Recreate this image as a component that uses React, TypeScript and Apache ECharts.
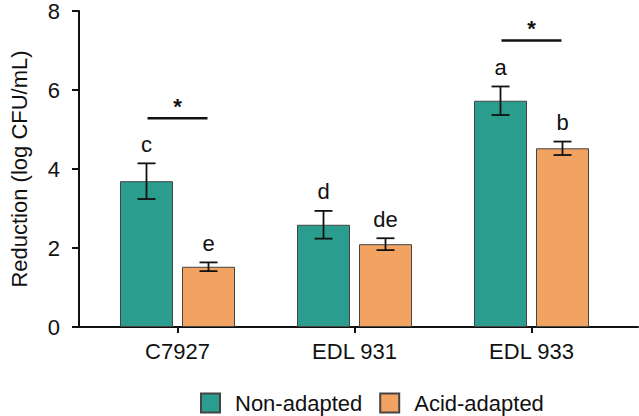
import React, { useEffect, useRef } from "react";
import * as echarts from "echarts";

const categories = ["C7927", "EDL 931", "EDL 933"];
const seriesNames = ["Non-adapted", "Acid-adapted"];
const nonAdapted = [3.68, 2.58, 5.71];
const nonAdaptedErr = [0.45, 0.35, 0.36];
const acidAdapted = [1.52, 2.09, 4.51];
const acidAdaptedErr = [0.11, 0.15, 0.17];
const nonLetters = ["c", "d", "a"];
const acidLetters = ["e", "de", "b"];
const sigCategoryIdx = [0, 2];
const sigLevels = [5.27, 7.23];
const sigMarks = ["*", "*"];
const yTicks = { min: 0, max: 8, interval: 2 };

const TEAL = "#2a9d8e";
const ORANGE = "#f2a261";
const FONT = "'Liberation Sans', Arial, Helvetica, sans-serif";
const FS = 22;
const BAR_W = 53;
const BAR_GAP_PX = 9;
const CAP_W = 18;

export default function App() {
  const ref = useRef<HTMLDivElement>(null);
  useEffect(() => {
    document.body.style.margin = "0";
    const chart = echarts.init(ref.current!, null, { renderer: "svg" });
    const offset = (BAR_W + BAR_GAP_PX) / 2;

    const errData: any[] = [];
    categories.forEach((c, i) => {
      errData.push([i, nonAdapted[i], nonAdaptedErr[i], -1, nonLetters[i]]);
      errData.push([i, acidAdapted[i], acidAdaptedErr[i], 1, acidLetters[i]]);
    });
    const sigData = sigCategoryIdx.map((ci, k) => [ci, sigLevels[k], sigMarks[k]]);

    chart.setOption({
      animation: false,
      textStyle: { fontFamily: FONT },
      grid: [
        { left: 72, right: 1, top: 10, bottom: 89 },
        { left: 89, right: 19, top: 10, bottom: 89 },
      ],
      legend: {
        left: 200,
        top: 392,
        padding: 0,
        itemWidth: 19,
        itemHeight: 19,
        itemGap: 17,
        icon: "rect",
        data: seriesNames,
        textStyle: { fontSize: FS, color: "#111", fontFamily: FONT, padding: [0, 0, 0, 10] },
      },
      xAxis: [
        {
          gridIndex: 0,
          type: "value",
          min: 0,
          max: 1,
          axisLine: { show: true, lineStyle: { color: "#111", width: 2 } },
          axisTick: { show: false },
          axisLabel: { show: false },
          splitLine: { show: false },
        },
        {
          gridIndex: 1,
          type: "category",
          data: categories,
          axisLine: { show: false },
          axisTick: { show: true, alignWithLabel: true, length: 6, lineStyle: { color: "#111", width: 2 } },
          axisLabel: { fontSize: FS, color: "#111", margin: 13, fontFamily: FONT },
        },
      ],
      yAxis: [
        {
          gridIndex: 0,
          type: "value",
          ...yTicks,
          name: "Reduction (log CFU/mL)",
          nameLocation: "middle",
          nameGap: 49,
          nameTextStyle: { fontSize: FS, color: "#111", fontFamily: FONT },
          axisLine: { show: true, lineStyle: { color: "#111", width: 2 } },
          axisTick: { show: true, length: 7, lineStyle: { color: "#111", width: 2 } },
          axisLabel: { fontSize: FS, color: "#111", margin: 19, fontFamily: FONT },
          splitLine: { show: false },
        },
        { gridIndex: 1, type: "value", ...yTicks, show: false, splitLine: { show: false } },
      ],
      series: [
        {
          name: seriesNames[0],
          type: "bar",
          xAxisIndex: 1,
          yAxisIndex: 1,
          data: nonAdapted,
          barWidth: BAR_W,
          barGap: `${(BAR_GAP_PX / BAR_W) * 100}%`,
          itemStyle: { color: TEAL, borderColor: "#444", borderWidth: 1 },
        },
        {
          name: seriesNames[1],
          type: "bar",
          xAxisIndex: 1,
          yAxisIndex: 1,
          data: acidAdapted,
          barWidth: BAR_W,
          barGap: `${(BAR_GAP_PX / BAR_W) * 100}%`,
          itemStyle: { color: ORANGE, borderColor: "#444", borderWidth: 1 },
        },
        {
          type: "custom",
          xAxisIndex: 1,
          yAxisIndex: 1,
          data: errData,
          z: 10,
          renderItem: (params: any, api: any) => {
            const ci = api.value(0);
            const v = api.value(1);
            const e = api.value(2);
            const side = api.value(3);
            const letter = errData[params.dataIndex][4];
            const top = api.coord([ci, v + e]);
            const bot = api.coord([ci, v - e]);
            const x = top[0] + side * offset;
            const st = { stroke: "#111", lineWidth: 1.8 };
            return {
              type: "group",
              children: [
                { type: "line", shape: { x1: x, y1: top[1], x2: x, y2: bot[1] }, style: st },
                { type: "line", shape: { x1: x - CAP_W / 2, y1: top[1], x2: x + CAP_W / 2, y2: top[1] }, style: st },
                { type: "line", shape: { x1: x - CAP_W / 2, y1: bot[1], x2: x + CAP_W / 2, y2: bot[1] }, style: st },
                {
                  type: "text",
                  style: {
                    x,
                    y: top[1] - 19,
                    text: letter,
                    fontSize: FS,
                    fontFamily: FONT,
                    fill: "#111",
                    align: "center",
                    verticalAlign: "middle",
                  },
                },
              ],
            };
          },
        },
        {
          type: "custom",
          xAxisIndex: 1,
          yAxisIndex: 1,
          data: sigData,
          z: 10,
          renderItem: (params: any, api: any) => {
            const p = api.coord([api.value(0), api.value(1)]);
            const mark = sigData[params.dataIndex][2];
            return {
              type: "group",
              children: [
                { type: "line", shape: { x1: p[0] - 30, y1: p[1], x2: p[0] + 30, y2: p[1] }, style: { stroke: "#111", lineWidth: 2.4 } },
                {
                  type: "text",
                  style: {
                    x: p[0],
                    y: p[1] - 12,
                    text: mark,
                    fontSize: FS,
                    fontWeight: "bold",
                    fontFamily: FONT,
                    fill: "#111",
                    align: "center",
                    verticalAlign: "middle",
                  },
                },
              ],
            };
          },
        },
      ],
    });
    return () => chart.dispose();
  }, []);
  return <div ref={ref} style={{ width: 639, height: 416 }} />;
}
